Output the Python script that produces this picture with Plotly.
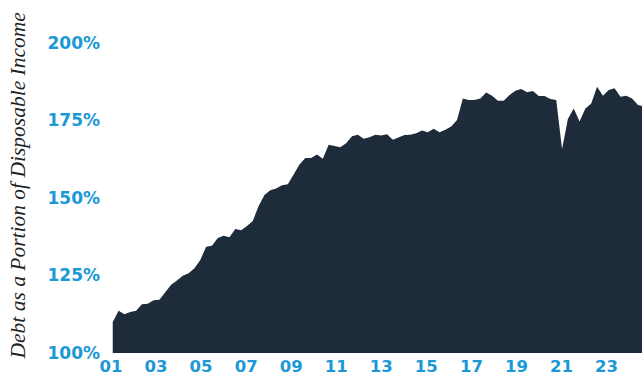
import plotly.graph_objects as go

# Quarterly household debt as % of disposable income, 2001Q1 - 2023Q4
quarters = [f"{y}Q{q}" for y in range(2001, 2024) for q in range(1, 5)]
debt_pct = [
    110.0, 113.6, 112.5, 113.2, 113.6, 115.7, 115.9, 117.0, 117.2, 119.6,
    122.0, 123.4, 124.9, 125.7, 127.3, 130.0, 134.3, 134.6, 137.1, 137.8,
    137.3, 140.0, 139.6, 141.0, 142.6, 147.4, 151.0, 152.5, 153.1, 154.1,
    154.4, 157.6, 160.8, 162.9, 162.9, 164.0, 162.7, 167.2, 166.7, 166.4,
    167.7, 169.9, 170.4,
    169.1, 169.6, 170.4, 170.2, 170.6, 168.8, 169.6, 170.3, 170.4, 170.9,
    171.8, 171.2, 172.3, 171.2, 172.0, 173.1, 175.2, 182.1, 181.6, 181.6,
    182.1, 184.0, 183.0, 181.4, 181.4, 183.2, 184.6, 185.2, 184.1, 184.5,
    182.9, 182.9, 181.9, 181.6, 165.8, 175.5, 178.9, 174.7, 178.9, 180.5,
    185.9, 183.0, 184.8, 185.4, 182.7, 183.0, 182.1, 180.0, 179.5,
]
tick_years = list(range(2001, 2024, 2))
tick_labels = [f"{y % 100:02d}" for y in tick_years]
y_ticks = [100, 125, 150, 175, 200]
y_tick_labels = [f"{v}%" for v in y_ticks]

x_idx = list(range(len(debt_pct)))
# label placement as in the source (slightly compressed vs. quarter grid)
tick_pos = [(y - 2001) * 4 * 0.965 - 0.3 for y in tick_years]

NAVY = "#1e2b3a"
BLUE = "#1b98d5"

fig = go.Figure()
fig.add_trace(go.Scatter(
    x=x_idx, y=debt_pct, mode="lines", line=dict(width=0, color=NAVY),
    fill="tozeroy", fillcolor=NAVY, hoverinfo="skip", showlegend=False,
))

L, T, B = 111, 43, 24
PW = 642 - L
PH = 377 - T - B

fig.update_layout(
    width=642, height=377,
    margin=dict(l=L, r=0, t=T, b=B, autoexpand=False),
    paper_bgcolor="white", plot_bgcolor="white",
    xaxis=dict(
        range=[-0.3, 90.7], tickvals=tick_pos, ticktext=tick_labels,
        showgrid=False, zeroline=False, showline=False, ticks="",
        tickfont=dict(family="DejaVu Sans", size=16.5, color=BLUE, weight="bold"),
        ticklabelstandoff=1, automargin=False, fixedrange=True,
    ),
    yaxis=dict(
        range=[100, 200], tickvals=y_ticks, ticktext=y_tick_labels,
        showgrid=False, zeroline=False, showline=False, ticks="",
        tickfont=dict(family="DejaVu Sans", size=17, color=BLUE, weight="bold"),
        ticklabelstandoff=10, automargin=False, fixedrange=True,
    ),
    annotations=[dict(
        text="Debt as a Portion of Disposable Income",
        xref="paper", yref="paper",
        x=(17 - L) / PW, y=(377 - B - 185.5) / PH,
        xanchor="center", yanchor="middle", textangle=-90, showarrow=False,
        font=dict(family="Liberation Serif", size=21.5, color="#222222", style="italic"),
    )],
)

fig.write_html("out.html", config={"displayModeBar": False},
               post_script="document.body.style.margin='0';")
